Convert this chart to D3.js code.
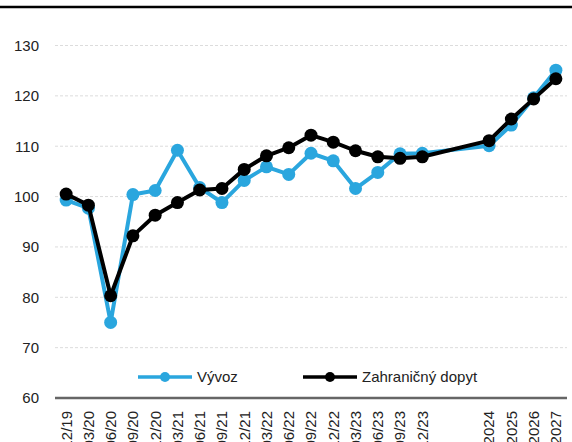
<!doctype html>
<html lang="en">
<head>
  <meta charset="utf-8">
  <title>Vývoz a zahraničný dopyt</title>
  <style>
    body { margin: 0; background: #fff; }
    svg { display: block; font-family: "Liberation Sans", Arial, sans-serif; }
    .grid line { stroke: #dcdcdc; stroke-dasharray: 3,2; }
    .tick text { font-size: 15px; fill: #222; }
  </style>
</head>
<body>
  <div id="chart"></div>
  <script src="https://cdn.jsdelivr.net/npm/d3@7"></script>
  <script>
(function(){

  // categories (two empty slots between the quarters and the yearly forecast)
  var labels = ["12/19","03/20","06/20","09/20","12/20","03/21","06/21","09/21","12/21",
                "03/22","06/22","09/22","12/22","03/23","06/23","09/23","12/23",
                "","","2024","2025","2026","2027"];

  var vyvoz = [99.3, 97.7, 75.0, 100.4, 101.2, 109.2, 101.8, 98.8, 103.2,
               105.9, 104.4, 108.6, 107.1, 101.6, 104.8, 108.5, 108.6,
               null, null, 110.1, 114.2, 119.6, 125.1];

  var dopyt = [100.5, 98.3, 80.3, 92.2, 96.3, 98.8, 101.3, 101.6, 105.4,
               108.1, 109.7, 112.2, 110.8, 109.1, 107.9, 107.6, 107.9,
               null, null, 111.1, 115.4, 119.4, 123.4];

  var yTicks = [60, 70, 80, 90, 100, 110, 120, 130];

  var series = [
    { name: "Vývoz", values: vyvoz, color: "#2aa6de" },
    { name: "Zahraničný dopyt", values: dopyt, color: "#000" }
  ];

  var width = 572, height = 442;
  var left = 55, right = 567, top = 45.5, bottom = 398;

  var svg = d3.select("#chart").append("svg")
      .attr("width", width)
      .attr("height", height);

  // thick rule at the top
  svg.append("line")
      .attr("x1", 0).attr("x2", width)
      .attr("y1", 7).attr("y2", 7)
      .attr("stroke", "#000").attr("stroke-width", 2.5);

  var x = d3.scaleBand()
      .domain(d3.range(labels.length))
      .range([left, right]);

  var y = d3.scaleLinear()
      .domain([60, 130])
      .range([bottom, top]);

  var cx = function(i) { return x(i) + x.bandwidth() / 2; };

  // gridlines
  svg.append("g").attr("class", "grid")
    .selectAll("line")
    .data(yTicks.filter(function(d) { return d > 60; }))
    .enter().append("line")
      .attr("x1", left).attr("x2", right)
      .attr("y1", function(d) { return y(d); })
      .attr("y2", function(d) { return y(d); });

  // y axis labels
  var yAxis = svg.append("g")
      .attr("transform", "translate(" + left + ",0)")
      .call(d3.axisLeft(y).tickValues(yTicks).tickSize(0).tickPadding(16));
  yAxis.select(".domain").remove();

  // x axis
  var xAxis = svg.append("g")
      .attr("transform", "translate(0," + bottom + ")")
      .call(d3.axisBottom(x).tickFormat(function(i) { return labels[i]; }).tickSize(0));
  xAxis.select(".domain").remove();
  xAxis.selectAll(".tick text")
      .attr("transform", "rotate(-90)")
      .attr("text-anchor", "end")
      .attr("x", -13)
      .attr("y", 0)
      .attr("dy", "0.36em");

  svg.append("line")
      .attr("x1", left).attr("x2", right)
      .attr("y1", bottom).attr("y2", bottom)
      .attr("stroke", "#666").attr("stroke-width", 2.5);

  var line = d3.line()
      .defined(function(d) { return d != null; })
      .x(function(d, i) { return cx(i); })
      .y(function(d) { return y(d); });

  series.forEach(function(s) {
    var g = svg.append("g");
    var pts = s.values.map(function(v, i) { return { v: v, i: i }; })
        .filter(function(p) { return p.v != null; });
    g.append("path")
        .datum(pts)
        .attr("fill", "none")
        .attr("stroke", s.color)
        .attr("stroke-width", 4)
        .attr("stroke-linejoin", "round")
        .attr("d", d3.line()
            .x(function(p) { return cx(p.i); })
            .y(function(p) { return y(p.v); }));
    g.selectAll("circle")
        .data(pts)
        .enter().append("circle")
        .attr("cx", function(p) { return cx(p.i); })
        .attr("cy", function(p) { return y(p.v); })
        .attr("r", 6.5)
        .attr("fill", s.color);
  });

  // legend
  var legendX = [138, 303];
  var legend = svg.append("g").selectAll("g")
      .data(series)
      .enter().append("g")
      .attr("transform", function(d, i) { return "translate(" + legendX[i] + ",377)"; });
  legend.append("line")
      .attr("x1", 0).attr("x2", 54)
      .attr("stroke", function(d) { return d.color; })
      .attr("stroke-width", 3.5);
  legend.append("circle")
      .attr("cx", 27).attr("r", 5)
      .attr("fill", function(d) { return d.color; });
  legend.append("text")
      .attr("x", 59).attr("dy", "0.35em")
      .attr("font-size", 15)
      .attr("fill", "#222")
      .text(function(d) { return d.name; });

})();
  </script>
</body>
</html>
